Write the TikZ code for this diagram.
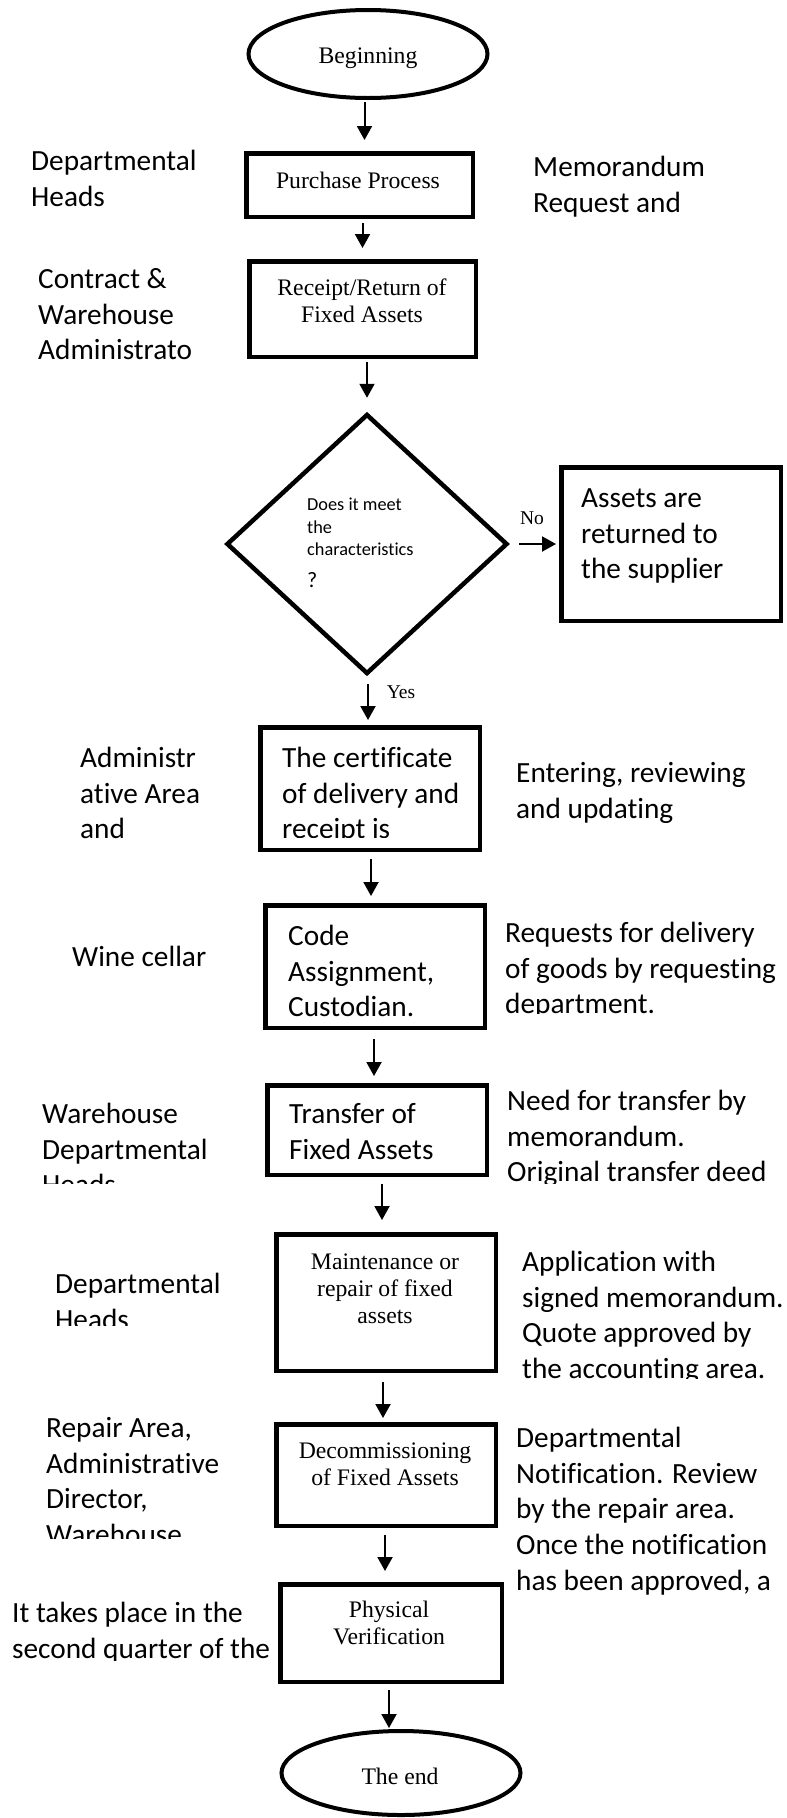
\documentclass[tikz,border=0pt]{standalone}
\usepackage{fontspec}
\setmainfont{Liberation Serif}
\newfontfamily\carl[Ligatures=NoCommon]{Carlito}
\usetikzlibrary{arrows.meta,shapes.geometric}
\begin{document}
\begin{tikzpicture}[x=1pt,y=-1pt,
  box/.style={draw, line width=4.5pt, rectangle, inner sep=0pt},
  oval/.style={draw, line width=4pt, ellipse, inner sep=0pt},
  dia/.style={draw, line width=4.5pt, diamond, inner sep=0pt},
  arr/.style={line width=2pt, -{Triangle[length=14pt,width=15pt]}},
  lab/.style={anchor=north west, inner sep=0pt, align=left, font=\carl\fontsize{29.3}{35.8}\selectfont},
  small/.style={anchor=north west, inner sep=0pt, align=left, font=\carl\fontsize{18.3}{22.5}\selectfont},
  ser/.style={anchor=north, inner sep=0pt, align=center, font=\fontsize{23.7}{27}\selectfont},
  yn/.style={inner sep=0pt, font=\fontsize{19.5}{22}\selectfont},
]
\fill[white] (0,0) rectangle (787,1818);

% shapes
\node[oval, minimum width=239pt, minimum height=88pt] (beg) at (368,54) {};
\node[box, minimum width=226.5pt, minimum height=63.5pt] (pur) at (359.5,185) {};
\node[box, minimum width=226.5pt, minimum height=95.5pt] (rec) at (362.5,309) {};
\node[dia, minimum width=281pt, minimum height=260pt] (dec1) at (367,544) {};
\node[box, minimum width=219.5pt, minimum height=153.5pt] (ast) at (671,544) {};
\node[box, minimum width=219.5pt, minimum height=122.5pt] (cer) at (370,788.5) {};
\node[box, minimum width=219.5pt, minimum height=122.5pt] (cod) at (375,966.5) {};
\node[box, minimum width=219.5pt, minimum height=89.5pt] (tra) at (377,1130) {};
\node[box, minimum width=219.5pt, minimum height=136.5pt] (mai) at (386,1302.5) {};
\node[box, minimum width=219.5pt, minimum height=101.5pt] (dcm) at (386,1475) {};
\node[box, minimum width=221.5pt, minimum height=97.5pt] (phy) at (391,1633) {};
\node[oval, minimum width=239pt, minimum height=84pt] (fin) at (401,1773) {};

% centred serif texts
\node[ser] (begt) at (368,44) {\strut Beginning};
\node[ser] (purt) at (358,169) {\strut Purchase Process};
\node[ser] (rect) at (362,276) {\strut Receipt/Return of\\Fixed Assets};
\node[ser] (mait) at (385,1250) {\strut Maintenance or\\repair of fixed\\assets};
\node[ser] (dcmt) at (385,1439) {\strut Decommissioning\\of Fixed Assets};
\node[ser] (phyt) at (389,1598) {\strut Physical\\Verification};
\node[ser] (fint) at (400,1765) {\strut The end};

% texts inside boxes (sans)
\node[small] (q) at (307,495) {\strut Does it meet\\the\\characteristics\\[9.5pt]{\fontsize{22}{24}\selectfont ?}};
\node[lab] (astt) at (581,482) {\strut Assets are\\returned to\\the supplier};
\begin{scope}
\clip (0,0) rectangle (787,837);
\node[lab] (cert) at (282,742) {\strut The certificate\\of delivery and\\receipt is};
\end{scope}
\begin{scope}
\clip (0,0) rectangle (787,1017);
\node[lab] (codt) at (288,920) {\strut Code\\Assignment,\\Custodian.};
\end{scope}
\node[lab] (trat) at (289,1098) {\strut Transfer of\\Fixed Assets};

% side labels
\node[lab] (l1) at (31,145) {\strut Departmental\\Heads};
\node[lab] (r1) at (533,151) {\strut Memorandum\\Request and};
\node[lab] (l2) at (38,263) {\strut Contract \&\\Warehouse\\Administrato};
\node[lab] (l3) at (80,742) {\strut Administr\\ative Area\\and};
\node[lab] (r3) at (516,757) {\strut Entering, reviewing\\and updating};
\node[lab] (l4) at (72,941) {\strut Wine cellar};
\begin{scope}
\clip (0,0) rectangle (787,1013);
\node[lab] (r4) at (505,917) {\strut Requests for delivery\\of goods by requesting\\department.};
\end{scope}
\begin{scope}
\clip (0,0) rectangle (787,1183);
\node[lab] (l5) at (42,1098) {\strut Warehouse\\Departmental\\Heads};
\node[lab] (r5) at (507,1085) {\strut Need for transfer by\\memorandum.\\Original transfer deed};
\end{scope}
\begin{scope}
\clip (0,0) rectangle (787,1325);
\node[lab] (l6) at (55,1268) {\strut Departmental\\Heads};
\end{scope}
\begin{scope}
\clip (0,0) rectangle (787,1378);
\node[lab] (r6) at (522,1246) {\strut Application with\\signed memorandum.\\Quote approved by\\the accounting area.};
\end{scope}
\begin{scope}
\clip (0,0) rectangle (787,1538);
\node[lab] (l7) at (46,1412) {\strut Repair Area,\\Administrative\\Director,\\Warehouse};
\end{scope}
\node[lab] (r7) at (516,1422) {\strut Departmental\\Notification. Review\\by the repair area.\\Once the notification\\has been approved, a};
\begin{scope}
\clip (0,0) rectangle (787,1660);
\node[lab] (l8) at (12,1597) {\strut It takes place in the\\second quarter of the};
\end{scope}

% connectors
\draw[arr, shorten <=2pt, shorten >=11pt] ([xshift=-3.5pt]beg.south) -- ([xshift=-3.5pt]beg.south |- pur.north);
\draw[arr, shorten <=4pt, shorten >=11pt] ([xshift=3pt]pur.south) -- ([xshift=3pt]pur.south |- rec.north);
\draw[arr, shorten <=3pt, shorten >=14pt] ([xshift=4.5pt]rec.south) -- ([xshift=4.5pt]rec.south |- dec1.north);
\draw[arr, shorten <=8pt, shorten >=5pt] ([xshift=1pt]dec1.south) -- ([xshift=1pt]dec1.south |- cer.north);
\draw[arr, shorten <=9.5pt, shorten >=3pt] (dec1.east) -- (ast.west);
\draw[arr, shorten <=7pt, shorten >=7pt] ([xshift=1pt]cer.south) -- ([xshift=1pt]cer.south |- cod.north);
\draw[arr, shorten <=9pt, shorten >=7pt] ([xshift=-1pt]cod.south) -- ([xshift=-1pt]cod.south |- tra.north);
\draw[arr, shorten <=7pt, shorten >=12pt] ([xshift=5pt]tra.south) -- ([xshift=5pt]tra.south |- mai.north);
\draw[arr, shorten <=9pt, shorten >=4pt] ([xshift=-3pt]mai.south) -- ([xshift=-3pt]mai.south |- dcm.north);
\draw[arr, shorten <=7pt, shorten >=11pt] ([xshift=-1pt]dcm.south) -- ([xshift=-1pt]dcm.south |- phy.north);
\draw[arr, shorten <=6pt, shorten >=1pt] ([xshift=-2pt]phy.south) -- ([xshift=-2pt]phy.south |- fin.north);

% connector labels
\node[yn] (no) at (532,518) {No};
\node[yn] (yes) at (401,692) {Yes};
\end{tikzpicture}
\end{document}
